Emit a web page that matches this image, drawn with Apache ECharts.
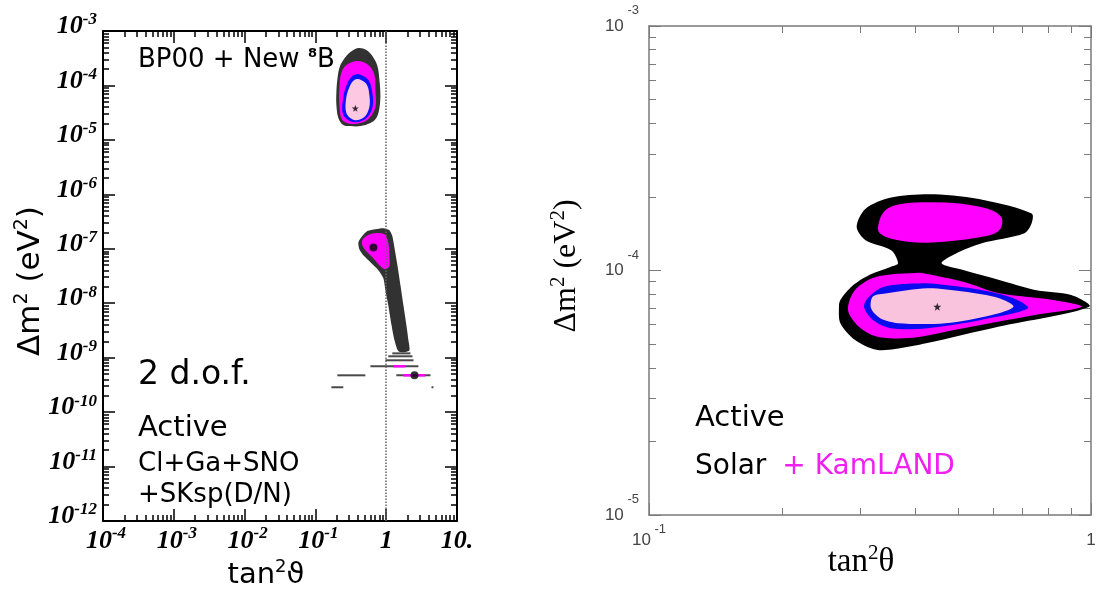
<!DOCTYPE html>
<html><head><meta charset="utf-8">
<script src="https://cdn.jsdelivr.net/npm/echarts@6/dist/echarts.min.js"></script>
<style>html,body{margin:0;padding:0;background:#fff}#c{width:1096px;height:603px}</style>
</head><body><div id="c"></div>
<script>
// ---------- tick labels ----------
const leftXTicks = [1e-4, 1e-3, 1e-2, 1e-1, 1, 10];
const leftYTicks = [1e-12, 1e-11, 1e-10, 1e-9, 1e-8, 1e-7, 1e-6, 1e-5, 1e-4, 1e-3];
const rightXTicks = [0.1, 1];
const rightYTicks = [1e-5, 1e-4, 1e-3];

// ---------- left panel: BP00 + New 8B (tan^2, dm^2 [eV^2]) ----------
const lmaBlack = [[0.405,4.87e-4],[0.525,4.48e-4],[0.638,3.47e-4],[0.751,2.27e-4],[0.802,1.26e-4],[0.828,6.7e-5],[0.802,3.84e-5],[0.726,2.52e-5],[0.598,2.04e-5],[0.432,1.79e-5],[0.312,1.79e-5],[0.248,1.87e-5],[0.211,2.52e-5],[0.198,4.36e-5],[0.198,7.57e-5],[0.204,1.26e-4],[0.218,2.09e-4],[0.248,2.93e-4],[0.312,4.11e-4]];
const lmaMagenta = [[0.392,2.81e-4],[0.560,2.37e-4],[0.681,1.55e-4],[0.703,8.2e-5],[0.703,4.0e-5],[0.542,2.31e-5],[0.344,1.95e-5],[0.240,2.31e-5],[0.218,4.36e-5],[0.218,8.95e-5],[0.232,1.69e-4],[0.274,2.37e-4]];
const lmaBlue = [[0.405,1.62e-4],[0.560,1.26e-4],[0.638,7.25e-5],[0.638,3.84e-5],[0.508,2.41e-5],[0.344,2.12e-5],[0.248,2.86e-5],[0.248,6.12e-5],[0.283,1.11e-4],[0.333,1.49e-4]];
const lmaPink = [[0.405,1.31e-4],[0.525,1.06e-4],[0.578,6.7e-5],[0.578,4.0e-5],[0.492,2.62e-5],[0.355,2.31e-5],[0.274,3.11e-5],[0.274,6.12e-5],[0.312,1.02e-4],[0.355,1.26e-4]];
const lowBlack = [[0.405,1.32e-7],[0.460,1.71e-7],[0.542,2.11e-7],[0.703,2.29e-7],[0.912,2.39e-7],[1.11,2.20e-7],[1.22,1.71e-7],[1.31,1.03e-7],[1.44,5.0e-8],[1.59,2.14e-8],[1.75,9.2e-9],[1.93,3.94e-9],[2.06,2.09e-9],[2.13,1.37e-9],[1.81,1.26e-9],[1.49,1.31e-9],[1.31,2.09e-9],[1.19,3.94e-9],[1.07,9.2e-9],[0.975,1.73e-8],[0.912,2.88e-8],[0.776,4.05e-8],[0.598,5.68e-8],[0.475,7.6e-8],[0.418,9.8e-8]];
const lowMagenta = [[0.460,1.44e-7],[0.525,1.71e-7],[0.638,1.90e-7],[0.828,1.94e-7],[0.975,1.78e-7],[1.07,1.32e-7],[1.11,7.6e-8],[1.11,4.79e-8],[0.975,4.22e-8],[0.828,4.79e-8],[0.638,7.0e-8],[0.508,9.4e-8],[0.460,1.16e-7]];
// thin horizontal strips: [tan2 from, tan2 to, dm2]
const stripesBlack = [[1.22,2.20,1.20e-9],[1.07,2.35,1.06e-9],[0.975,2.43,8.95e-10],[0.598,2.85,6.95e-10],[0.204,0.508,4.74e-10],[1.39,4.22,4.74e-10],[0.168,0.248,2.86e-10],[4.36,4.65,2.86e-10]];
const stripesMagenta = [[1.26,1.87,6.95e-10],[1.75,3.58,4.74e-10]];
const leftDots = [[0.659,1.05e-7],[2.51,4.74e-10]];
const leftStar = [[0.366,3.8e-5]];

// ---------- right panel: Solar + KamLAND ----------
const rBlack = [[0.366,1.07e-4],[0.353,1.21e-4],[0.309,1.33e-4],[0.295,1.51e-4],[0.309,1.79e-4],[0.353,1.99e-4],[0.442,2.05e-4],[0.575,1.94e-4],[0.734,1.71e-4],[0.734,1.56e-4],[0.707,1.42e-4],[0.564,1.29e-4],[0.495,1.175e-4],[0.459,1.07e-4],[0.514,1.005e-4],[0.620,9.15e-5],[0.747,8.33e-5],[0.902,7.94e-5],[0.991,7.11e-5],[0.620,5.90e-5],[0.426,5.05e-5],[0.360,4.77e-5],[0.327,4.74e-5],[0.2925,5.2e-5],[0.271,6.09e-5],[0.269,7.11e-5],[0.271,7.58e-5],[0.287,8.59e-5],[0.315,9.59e-5],[0.353,1.036e-4]];
const rMagUpper = [[0.330,1.46e-4],[0.346,1.79e-4],[0.426,1.90e-4],[0.564,1.82e-4],[0.626,1.66e-4],[0.620,1.46e-4],[0.564,1.37e-4],[0.426,1.30e-4],[0.353,1.35e-4]];
const rMagLower = [[0.410,9.8e-5],[0.327,9.43e-5],[0.2925,8.33e-5],[0.282,6.9e-5],[0.298,5.9e-5],[0.327,5.37e-5],[0.3875,5.29e-5],[0.514,5.81e-5],[0.747,6.58e-5],[0.954,7.11e-5],[0.821,7.58e-5],[0.620,8.07e-5],[0.514,9.0e-5],[0.426,9.68e-5]];
const rBlue = [[0.418,8.87e-5],[0.340,8.59e-5],[0.315,7.82e-5],[0.3065,7.11e-5],[0.321,6.28e-5],[0.353,5.81e-5],[0.426,5.81e-5],[0.564,6.28e-5],[0.720,7.0e-5],[0.668,7.7e-5],[0.564,8.33e-5],[0.468,8.73e-5]];
const rPink = [[0.668,7.11e-5],[0.620,7.7e-5],[0.514,8.2e-5],[0.426,8.46e-5],[0.346,8.07e-5],[0.321,7.82e-5],[0.318,7.0e-5],[0.3335,6.38e-5],[0.366,6.09e-5],[0.468,6.09e-5],[0.597,6.58e-5]];
const rStar = [[0.449,7.11e-5]];

// ---------- helpers ----------
function minorOf(lo, hi) {
  const out = [];
  for (let e = lo; e < hi; e++) for (let m = 2; m <= 9; m++) out.push(Number(m + 'e' + e));
  return out;
}
const SANS = 'DejaVu Sans', SERIF = 'Liberation Serif';
const STAR = 'path://M0,-10L2.35,-3.24L9.51,-3.09L3.8,1.24L5.88,8.09L0,4L-5.88,8.09L-3.8,1.24L-9.51,-3.09L-2.35,-3.24Z';

function ax(grid, pos, min, max, ticks, len, color, lw, showLine, label) {
  return {
    type: 'log', logBase: 10, gridIndex: grid, position: pos, min: min, max: max, silent: true,
    axisLine: {show: showLine, onZero: false, lineStyle: {color: color, width: lw}},
    axisTick: {show: true, inside: true, length: len, customValues: ticks, lineStyle: {color: color, width: lw > 1.6 ? 1.5 : 1}},
    axisLabel: label || {show: false},
    splitLine: {show: false}, minorTick: {show: false}, minorSplitLine: {show: false}
  };
}
const expOf = v => Math.round(Math.log10(v));

const lxLabel = {
  show: true, customValues: leftXTicks, margin: 4,
  formatter: v => { const e = expOf(v); if (e === 0) return '{b|1}'; if (e === 1) return '{b|10.}'; return '{sp|}{b|10}{s|' + e + '}'; },
  rich: {
    b: {fontFamily: SERIF, fontStyle: 'italic', fontWeight: 'bold', fontSize: 26, color: '#000', lineHeight: 32},
    s: {fontFamily: SERIF, fontStyle: 'italic', fontWeight: 'bold', fontSize: 17, color: '#000', lineHeight: 17, verticalAlign: 'top'},
    sp: {width: 6}
  }
};
const lyLabel = {
  show: true, customValues: leftYTicks, margin: 6, padding: [0, 0, 9, 0],
  formatter: v => '{b|10}{s|' + expOf(v) + '}',
  rich: {
    b: {fontFamily: SERIF, fontStyle: 'italic', fontWeight: 'bold', fontSize: 26, color: '#000', lineHeight: 30},
    s: {fontFamily: SERIF, fontStyle: 'italic', fontWeight: 'bold', fontSize: 17, color: '#000', lineHeight: 17, verticalAlign: 'top'}
  }
};
const rxLabel = {
  show: true, customValues: rightXTicks, margin: 8,
  formatter: v => { const e = expOf(v); return e === 0 ? '{b|1}' : '{b|10}{s| ' + e + '}'; },
  rich: {
    b: {fontFamily: 'Liberation Sans', fontSize: 17, color: '#444', lineHeight: 35},
    s: {fontFamily: 'Liberation Sans', fontSize: 13, color: '#444', lineHeight: 13, verticalAlign: 'top'}
  }
};
const ryLabel = {
  show: true, customValues: rightYTicks, margin: 10,
  formatter: v => '{b|10}{s| ' + expOf(v) + '}',
  rich: {
    b: {fontFamily: 'Liberation Sans', fontSize: 17, color: '#444', lineHeight: 44},
    s: {fontFamily: 'Liberation Sans', fontSize: 13, color: '#444', lineHeight: 13, verticalAlign: 'top'}
  }
};

const LX = minorOf(-4, 1), LY = minorOf(-12, -3), RX = minorOf(-1, 0), RY = minorOf(-5, -3);
const K = '#000', G = '#7a7a7a';

const xAxis = [
  ax(0, 'bottom', 1e-4, 10, leftXTicks, 12, K, 2, true, lxLabel),
  ax(0, 'bottom', 1e-4, 10, LX, 6, K, 2, false),
  ax(0, 'top', 1e-4, 10, leftXTicks, 12, K, 2, true),
  ax(0, 'top', 1e-4, 10, LX, 6, K, 2, false),
  ax(1, 'bottom', 0.1, 1, rightXTicks, 12, G, 1.5, true, rxLabel),
  ax(1, 'bottom', 0.1, 1, RX, 7, G, 1.5, false),
  ax(1, 'top', 0.1, 1, rightXTicks, 12, G, 1.5, true),
  ax(1, 'top', 0.1, 1, RX, 7, G, 1.5, false)
];
const yAxis = [
  ax(0, 'left', 1e-12, 1e-3, leftYTicks, 12, K, 2, true, lyLabel),
  ax(0, 'left', 1e-12, 1e-3, LY, 6, K, 2, false),
  ax(0, 'right', 1e-12, 1e-3, leftYTicks, 12, K, 2, true),
  ax(0, 'right', 1e-12, 1e-3, LY, 6, K, 2, false),
  ax(1, 'left', 1e-5, 1e-3, rightYTicks, 12, G, 1.5, true, ryLabel),
  ax(1, 'left', 1e-5, 1e-3, RY, 7, G, 1.5, false),
  ax(1, 'right', 1e-5, 1e-3, rightYTicks, 12, G, 1.5, true),
  ax(1, 'right', 1e-5, 1e-3, RY, 7, G, 1.5, false)
];

function poly(pts, fill, ai, z, smooth, extra) {
  const s = {
    type: 'custom', coordinateSystem: 'cartesian2d', xAxisIndex: ai, yAxisIndex: ai, z: z, silent: true,
    data: [pts[0]],
    renderItem: (params, api) => ({
      type: 'polygon',
      shape: {points: pts.map(p => api.coord(p)), smooth: smooth},
      style: {fill: fill}
    })
  };
  return Object.assign(s, extra || {});
}
function stripes(list, fill, z, h) {
  return {
    type: 'custom', coordinateSystem: 'cartesian2d', xAxisIndex: 0, yAxisIndex: 0, z: z, silent: true,
    data: list, encode: {x: [0, 1], y: 2},
    renderItem: (params, api) => {
      const a = api.coord([api.value(0), api.value(2)]);
      const b = api.coord([api.value(1), api.value(2)]);
      return {type: 'rect', shape: {x: a[0], y: a[1] - h / 2, width: b[0] - a[0], height: h}, style: {fill: fill}};
    }
  };
}

const DARK = '#323232', MAG = '#ff00ff', BLUE = '#1010ff', PINK = '#fcc8e2';

const series = [
  poly(lmaBlack, DARK, 0, 1, 0.35, {
    markLine: {silent: true, symbol: 'none', label: {show: false}, animation: false,
      lineStyle: {type: 'dotted', color: '#666', width: 1.5}, data: [{xAxis: 1}]}
  }),
  poly(lmaMagenta, MAG, 0, 2, 0.35),
  poly(lmaBlue, BLUE, 0, 3, 0.35),
  poly(lmaPink, PINK, 0, 4, 0.35),
  poly(lowBlack, DARK, 0, 1, 0.25),
  poly(lowMagenta, MAG, 0, 2, 0.3),
  stripes(stripesBlack, '#4a4a4a', 1, 2),
  stripes(stripesMagenta, MAG, 2, 2.5),
  {type: 'scatter', xAxisIndex: 0, yAxisIndex: 0, data: leftDots, symbol: 'circle', symbolSize: 8, itemStyle: {color: '#000'}, z: 10, silent: true},
  {type: 'scatter', xAxisIndex: 0, yAxisIndex: 0, data: leftStar, symbol: STAR, symbolSize: 7, itemStyle: {color: '#000'}, z: 10, silent: true},

  poly(rBlack, '#000', 4, 1, 0.3),
  poly(rMagUpper, MAG, 4, 2, 0.35),
  poly(rMagLower, MAG, 4, 2, 0.3),
  poly(rBlue, '#0a0aee', 4, 3, 0.3),
  poly(rPink, '#f9c3dd', 4, 4, 0.3),
  {type: 'scatter', xAxisIndex: 4, yAxisIndex: 4, data: rStar, symbol: STAR, symbolSize: 8, itemStyle: {color: '#000'}, z: 10, silent: true}
];

function txt(x, y, text, size, extra) {
  return Object.assign({type: 'text', x: x, y: y, silent: true,
    style: Object.assign({text: text, fontFamily: SANS, fontSize: size, fill: '#000', align: 'left', verticalAlign: 'middle'}, extra || {})});
}
function supRich(fam, size, supSize, lh) {
  return {
    a: {fontFamily: fam, fontSize: size, fill: '#000', lineHeight: lh},
    s: {fontFamily: fam, fontSize: supSize, fill: '#000', lineHeight: supSize, verticalAlign: 'top'}
  };
}

const graphic = [
  txt(138, 60, '{a|BP00 + New }{s|8}{a|B}', 26, {rich: {a: {fontFamily: SANS, fontSize: 26, lineHeight: 26}, s: {fontFamily: SANS, fontSize: 13, fontWeight: 'bold', lineHeight: 14, verticalAlign: 'top'}}}),
  txt(138, 375, '2 d.o.f.', 33),
  txt(138, 428, 'Active', 29),
  txt(138, 464, 'Cl+Ga+SNO', 26),
  txt(138, 495, '+SKsp(D/N)', 26),
  txt(266, 575, '{a|tan}{s|2}{a|ϑ}', 29, {align: 'center', rich: supRich(SANS, 29, 18, 34)}),
  {type: 'text', x: 31, y: 281, rotation: Math.PI / 2, silent: true,
    style: {text: '{a|Δm}{s|2}{a| (eV}{s|2}{a|)}', fontFamily: SANS, fontSize: 31, fill: '#000', align: 'center', verticalAlign: 'middle',
      rich: supRich(SANS, 31, 19, 36)}},

  txt(695, 418, 'Active', 29),
  txt(695, 467, '{a|Solar}{m|+ KamLAND}', 28, {rich: {a: {fontFamily: SANS, fontSize: 28, fill: '#000'}, m: {fontFamily: SANS, fontSize: 28, fill: '#f020f0', padding: [0, 0, 0, 16]}}}),
  txt(861, 562, '{a|tan}{s|2}{a|θ}', 33, {fontFamily: SERIF, align: 'center', rich: supRich(SERIF, 33, 21, 38)}),
  {type: 'text', x: 567, y: 266, rotation: Math.PI / 2, silent: true,
    style: {text: '{a|Δm}{s|2}{a| (eV}{s|2}{a|)}', fontFamily: SERIF, fontSize: 32, fill: '#000', align: 'center', verticalAlign: 'middle',
      rich: supRich(SERIF, 32, 21, 38)}}
];

const chart = echarts.init(document.getElementById('c'));
chart.setOption({
  animation: false,
  backgroundColor: '#fff',
  grid: [
    {left: 103, top: 31, width: 354, height: 490, containLabel: false, outerBoundsMode: 'none'},
    {left: 649, top: 26, width: 442, height: 489, containLabel: false, outerBoundsMode: 'none'}
  ],
  xAxis: xAxis,
  yAxis: yAxis,
  series: series,
  graphic: graphic
});
</script></body></html>
